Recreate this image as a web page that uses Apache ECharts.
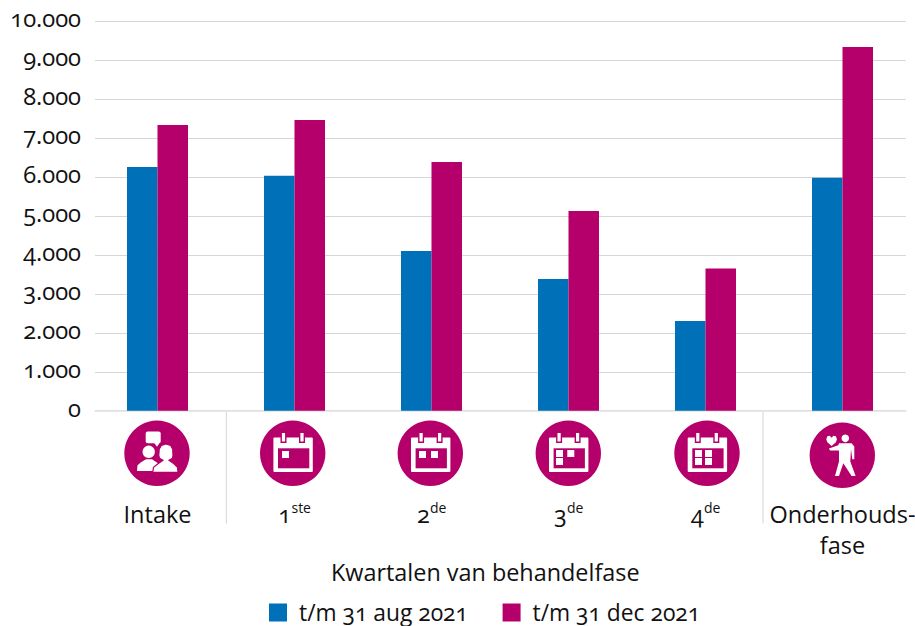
<!DOCTYPE html>
<html lang="nl">
<head>
    <meta charset="UTF-8">
    <title>Kwartalen van behandelfase</title>
    <script src="https://cdn.jsdelivr.net/npm/echarts@6/dist/echarts.min.js"></script>
    <style>
        html, body { margin: 0; padding: 0; background: #fff; }
        #box { width: 915px; height: 626px; font-feature-settings: "onum" 1; }
    </style>
</head>
<body>
<div id="box"></div>
<script>
    var fontName = '"Open Sans", "Noto Sans", sans-serif';
    var textColor = '#111111';
    var blue = '#0070b8';
    var magenta = '#b5006b';

    //x-as
    var categories = ['Intake', '1', '2', '3', '4', 'Onderhouds-\nfase'];
    var suffixes = ['', 'ste', 'de', 'de', 'de', ''];
    //y-as
    var yTicks = ['0', '1.000', '2.000', '3.000', '4.000', '5.000', '6.000', '7.000', '8.000', '9.000', '10.000'];
    //reeksen
    var seriesNames = ['t/m 31 aug 2021', 't/m 31 dec 2021'];
    var augValues = [6258, 6035, 4100, 3380, 2303, 5985];
    var decValues = [7336, 7465, 6386, 5128, 3650, 9340];
    var xTitle = 'Kwartalen van behandelfase';

    //kalender-icoon, squares = [dx, dy] van de witte blokjes
    function calendar(cx, cy, squares) {
        var kids = [
            { type: 'rect', shape: { x: -19.3, y: -15.7, width: 39.4, height: 34.4, r: 1 }, style: { fill: '#fff' } },
            { type: 'rect', shape: { x: -14.7, y: -5, width: 31.3, height: 20 }, style: { fill: magenta } },
            { type: 'rect', shape: { x: -11.5, y: -21, width: 4.6, height: 10 }, style: { fill: '#fff', stroke: magenta, lineWidth: 1.4 } },
            { type: 'rect', shape: { x: 7, y: -21, width: 4.6, height: 10 }, style: { fill: '#fff', stroke: magenta, lineWidth: 1.4 } }
        ];
        squares.forEach(function (s) {
            kids.push({ type: 'rect', shape: { x: s[0], y: s[1], width: 7, height: 7 }, style: { fill: '#fff' } });
        });
        return circleIcon(cx, cy, kids);
    }
    function circleIcon(cx, cy, kids) {
        return {
            type: 'group', x: cx, y: cy,
            children: [{ type: 'circle', shape: { cx: 0, cy: 0, r: 32.7 }, style: { fill: magenta } }].concat(kids)
        };
    }
    var white = { fill: '#fff' };
    var intakeIcon = circleIcon(157, 453.3, [
        { type: 'rect', shape: { x: -11.3, y: -21.7, width: 15, height: 11.7, r: 2 }, style: white },
        { type: 'polygon', shape: { points: [[-3, -10.5], [3, -11], [0, -6.5]] }, style: white },
        { type: 'circle', shape: { cx: -8.3, cy: -1.5, r: 6.2 }, style: white },
        { type: 'polygon', shape: { points: [[-20, 17.7], [-19.5, 12], [-16, 9], [-11, 6], [-5, 6], [1, 10], [-2, 17.7]] }, style: white },
        { type: 'polygon', shape: { points: [[-4.3, 19], [-3.5, 14], [1, 10.5], [6, 7], [2.5, 5], [1.8, 2], [2.2, -4], [4.5, -8], [9, -9.3], [13.5, -8], [15.7, -4], [16, 2], [15.5, 5], [12, 7], [17, 10.5], [20.5, 14], [21, 19]] }, style: { fill: '#fff', stroke: magenta, lineWidth: 1.2 } }
    ]);
    var walkerIcon = circleIcon(842.3, 455.3, [
        { type: 'circle', shape: { cx: 3, cy: -17, r: 3.8 }, style: white },
        { type: 'polygon', shape: { points: [[-10.7, -9.3], [-15, -13], [-16, -16], [-15, -19], [-12.5, -19.5], [-10.7, -17.5], [-8.9, -19.5], [-6.4, -19], [-5.4, -16], [-6.4, -13]] }, style: white },
        { type: 'polygon', shape: { points: [[-3.3, -12], [9.3, -12], [12, -8.7], [12, 4], [10, 4], [8.7, -6], [8, 6.3], [13.3, 20.7], [9.3, 20.7], [1, 8], [-3.3, 20.7], [-7.3, 20.7], [-3.3, 6.3], [-3.3, -4.7], [-12.3, -4.7], [-13.3, -6.7], [-4, -10]] }, style: white }
    ]);
    function divider(x) {
        return { type: 'line', shape: { x1: x, y1: 411, x2: x, y2: 523.5 }, style: { stroke: '#d4d4d4', lineWidth: 1 } };
    }

    var richLabels = {
        n: { fontFamily: fontName, fontSize: 23.5, color: textColor, lineHeight: 31 },
        s: { fontFamily: fontName, fontSize: 14, color: textColor, lineHeight: 18, padding: [0, 0, 13, 0] }
    };

    var myChart = echarts.init(document.getElementById('box'), null, { renderer: 'svg' });
    myChart.setOption({
        animation: false,
        textStyle: { fontFamily: fontName },
        title: {
            text: xTitle, left: 331, top: 560, padding: 0,
            textStyle: { fontFamily: fontName, fontSize: 23.4, fontWeight: 'normal', color: textColor }
        },
        legend: {
            left: 269, top: 601, padding: 0, itemWidth: 18, itemHeight: 18, itemGap: 31,
            icon: 'rect', data: seriesNames,
            textStyle: { fontFamily: fontName, fontSize: 22.8, color: textColor, padding: [0, 0, 3, 7] }
        },
        //grid 0: rasterlijnen en y-labels, grid 1: staven
        grid: [
            { left: 95, width: 811, top: 21.3, height: 389.4, outerBoundsMode: 'none' },
            { left: 89, width: 822, top: 21.3, height: 389.4, outerBoundsMode: 'none' }
        ],
        xAxis: [
            { gridIndex: 0, type: 'category', data: categories, axisLine: { show: true, lineStyle: { color: '#e2e2e2', width: 1.5 } }, axisTick: { show: false }, axisLabel: { show: false } },
            {
                gridIndex: 1, type: 'category', data: categories,
                axisLine: { show: false }, axisTick: { show: false },
                axisLabel: {
                    interval: 0, margin: 88, lineHeight: 31,
                    formatter: function (v, i) {
                        if (!suffixes[i]) return v.split('\n').map(function (t) { return '{n|' + t + '}'; }).join('\n');
                        return '{n|' + v + '}{s|' + suffixes[i] + '}';
                    },
                    rich: richLabels
                }
            }
        ],
        yAxis: [
            {
                gridIndex: 0, type: 'value', min: 0, max: 10000, interval: 1000,
                axisLine: { show: false }, axisTick: { show: false },
                splitLine: { lineStyle: { color: '#d6d6d6', width: 1 } },
                axisLabel: {
                    margin: 14, color: textColor, fontFamily: fontName, fontSize: 23.7,
                    verticalAlign: 'bottom', lineHeight: 6,
                    formatter: function (v) { return yTicks[v / 1000]; }
                }
            },
            { gridIndex: 1, type: 'value', min: 0, max: 10000, interval: 1000, show: false }
        ],
        series: [
            { name: seriesNames[0], type: 'bar', xAxisIndex: 1, yAxisIndex: 1, data: augValues, barWidth: 30.5, barGap: 0, itemStyle: { color: blue } },
            { name: seriesNames[1], type: 'bar', xAxisIndex: 1, yAxisIndex: 1, data: decValues, barWidth: 30.5, barGap: 0, itemStyle: { color: magenta } }
        ],
        graphic: { elements: [
            divider(226.3), divider(763),
            intakeIcon,
            calendar(292.7, 453.3, [[-10.7, -2.3]]),
            calendar(430.3, 453.3, [[-11.3, -2.3], [0.7, -2.3]]),
            calendar(568.3, 453.3, [[-12.3, -3.3], [-1, -3.3], [-12.3, 4.7]]),
            calendar(707, 453.3, [[-12, -3.3], [-2, -3.3], [-12, 4.7], [-2, 4.7]]),
            walkerIcon
        ] }
    });
</script>
</body>
</html>
